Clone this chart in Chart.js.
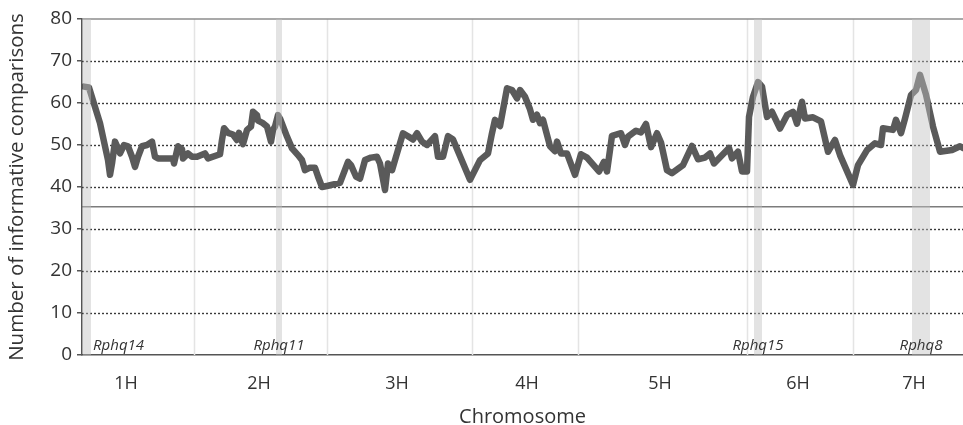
<!DOCTYPE html>
<html>
<head>
<meta charset="utf-8">
<script src="https://cdn.jsdelivr.net/npm/chart.js@4.4.0/dist/chart.umd.min.js"></script>
<style>
  html, body { margin: 0; padding: 0; background: #fff; }
  #wrap { width: 963px; height: 425px; }
</style>
</head>
<body>
<div id="wrap"><canvas id="myChart"></canvas></div>
<script>
// genome position (arbitrary map units along the concatenated chromosomes)
const positions = [
  2, 7, 18, 26, 28, 30, 33, 36, 38, 42, 46, 50, 53, 56, 60, 65, 70, 73, 76, 91,
  92, 96, 100, 101, 106, 110, 115, 123, 126, 138, 140, 142, 146, 151, 155, 157, 161, 165, 169, 171,
  175, 176, 181, 185, 189, 191, 193, 196, 198, 205, 210, 216, 220, 223, 228, 233, 236, 240, 246, 258,
  266, 269, 274, 278, 283, 289, 295, 298, 303, 306, 310, 315, 321, 326, 331, 335, 340, 345, 353, 356,
  361, 366, 371, 388, 398, 406, 410, 413, 418, 425, 430, 435, 438, 443, 448, 451, 455, 458, 461, 468,
  473, 475, 479, 485, 493, 499, 505, 517, 522, 525, 530, 539, 543, 546, 554, 559, 564, 569, 575, 579,
  585, 590, 601, 610, 616, 623, 628, 632, 647, 650, 656, 660, 665, 667, 671, 676, 680, 685, 690, 698,
  705, 711, 715, 720, 723, 731, 739, 746, 753, 758, 771, 776, 785, 793, 799, 801, 811, 814, 819, 823,
  829, 834, 838, 844, 851, 858, 870, 878, 881
];
const comparisons = [
  63.9, 63.7, 55.2, 46.4, 42.9, 45.6, 50.8, 49.2, 48, 50, 49.7, 47.2, 44.8, 47.2, 49.7, 50, 50.8, 47.2, 46.8, 46.8,
  45.6, 49.7, 49, 46.8, 48, 47.2, 47.2, 48, 46.8, 47.8, 51.2, 54, 52.9, 52.5, 51.2, 52.9, 50.2, 53.6, 54.4, 57.9,
  57.1, 55.8, 55.2, 54.4, 50.8, 53.6, 54.4, 57.1, 56.3, 52, 49.2, 47.6, 46.4, 44, 44.6, 44.6, 42.5, 40, 40.3, 41,
  46, 45.2, 42.5, 42, 46.4, 47, 47.2, 45.6, 39.3, 45.6, 44, 48, 52.8, 52.1, 51.3, 52.8, 50.8, 50, 52.1, 47.2,
  47.2, 52.1, 51.3, 41.7, 46.4, 48, 52.8, 56, 54.5, 63.5, 63.1, 61.1, 63.1, 61.5, 58.5, 56, 57.2, 55.2, 56, 49.7,
  48.5, 50.8, 48, 48, 42.9, 47.8, 47, 43.7, 46, 43.7, 52.2, 52.8, 50, 52, 53.4, 53, 55, 49.5, 52.8, 50.6,
  44, 43.3, 45.2, 49.8, 46.6, 47, 48, 45.6, 49.3, 46.8, 48.4, 43.7, 43.7, 56.7, 61.5, 65, 63.9, 56.7, 57.9, 53.9,
  57.1, 57.9, 55.1, 60.3, 56.3, 56.6, 55.6, 48.4, 51.2, 47.6, 40.5, 45.2, 48.8, 50.4, 50, 54, 53.6, 56, 52.8, 56.3,
  61.9, 63.1, 66.7, 62, 54.4, 48.4, 48.8, 49.7, 49.3
];

const chromNames = ['1H', '2H', '3H', '4H', '5H', '6H', '7H'];
const chromCentres = [44, 177, 315, 445, 578, 716, 832];
const chromBounds = [112, 245, 390, 496, 665, 771];

const qtlNames = ['Rphq14', 'Rphq11', 'Rphq15', 'Rphq8'];
const qtlStart = [1, 194, 672, 830];
const qtlEnd = [9, 200, 680, 848];

const threshold = 35.3;
const genomeEnd = 881;

const backdrop = {
  id: 'backdrop',
  beforeDatasetsDraw(chart) {
    const { ctx, chartArea: a, scales: { x, y } } = chart;
    ctx.save();
    // chromosome dividers
    ctx.strokeStyle = '#e4e4e4';
    ctx.lineWidth = 1.5;
    chromBounds.forEach(b => {
      const px = Math.round(x.getPixelForValue(b)) + 0.5;
      ctx.beginPath();
      ctx.moveTo(px, a.top);
      ctx.lineTo(px, a.bottom);
      ctx.stroke();
    });
    // dotted grid
    ctx.strokeStyle = '#3a3a3a';
    ctx.lineWidth = 1.4;
    ctx.setLineDash([2, 2]);
    y.ticks.forEach(t => {
      if (t.value <= 0 || t.value >= 80) return;
      const py = Math.round(y.getPixelForValue(t.value)) + 0.5;
      ctx.beginPath();
      ctx.moveTo(a.left, py);
      ctx.lineTo(a.right, py);
      ctx.stroke();
    });
    ctx.setLineDash([]);
    // top frame line
    ctx.strokeStyle = '#8c8c8c';
    ctx.lineWidth = 1.5;
    const top = y.getPixelForValue(80);
    ctx.beginPath();
    ctx.moveTo(a.left, top);
    ctx.lineTo(a.right, top);
    ctx.stroke();
    ctx.restore();
  },
  afterDatasetsDraw(chart) {
    const { ctx, chartArea: a, scales: { x, y } } = chart;
    ctx.save();
    ctx.fillStyle = 'rgba(194, 194, 194, 0.45)';
    qtlStart.forEach((s, i) => {
      const x0 = x.getPixelForValue(s);
      const x1 = x.getPixelForValue(qtlEnd[i]);
      ctx.fillRect(x0, a.top, x1 - x0, a.bottom - a.top);
    });
    ctx.fillStyle = '#333';
    ctx.font = 'italic 15px "Open Sans"';
    ctx.textBaseline = 'alphabetic';
    qtlNames.forEach((name, i) => {
      const w = ctx.measureText(name).width;
      const mid = (x.getPixelForValue(qtlStart[i]) + x.getPixelForValue(qtlEnd[i])) / 2;
      const left = Math.max(mid - w / 2, a.left + 11);
      ctx.fillText(name, left, y.getPixelForValue(0) - 5);
    });
    ctx.restore();
  }
};

const ctx = document.getElementById('myChart').getContext('2d');
const chart = new Chart(ctx, {
  type: 'line',
  data: {
    datasets: [{
      data: positions.map((p, i) => ({ x: p, y: comparisons[i] })),
      borderColor: '#5a5a5a',
      borderWidth: 6.5,
      borderJoinStyle: 'round',
      borderCapStyle: 'round',
      pointRadius: 0,
      tension: 0
    }, {
      data: [{ x: 0, y: threshold }, { x: genomeEnd, y: threshold }],
      borderColor: '#7c7c7c',
      borderWidth: 1.5,
      pointRadius: 0
    }]
  },
  options: {
    responsive: true,
    maintainAspectRatio: false,
    animation: false,
    layout: { padding: { top: 19, right: 0, bottom: 0, left: 0 } },
    plugins: { legend: { display: false }, tooltip: { enabled: false } },
    scales: {
      x: {
        type: 'linear',
        min: 0,
        max: genomeEnd,
        afterBuildTicks(scale) { scale.ticks = chromCentres.map(v => ({ value: v })); },
        afterFit(scale) { scale.height = 70; },
        ticks: {
          autoSkip: false,
          maxRotation: 0,
          color: '#333',
          font: { family: 'Open Sans', size: 18 },
          padding: 18,
          callback: (v, i) => chromNames[i]
        },
        grid: { display: false, drawTicks: false },
        border: { display: true, color: '#555', width: 1.5 },
        title: {
          display: true,
          text: 'Chromosome',
          color: '#333',
          font: { family: 'Open Sans', size: 20, lineHeight: 1 },
          padding: { top: 0, bottom: -2 }
        }
      },
      y: {
        min: 0,
        max: 80,
        afterFit(scale) { scale.width = 82; },
        ticks: {
          stepSize: 10,
          color: '#333',
          font: { family: 'Open Sans', size: 19 },
          padding: 5
        },
        grid: { drawOnChartArea: false, drawTicks: true, tickLength: 5, color: '#555', lineWidth: 1.5 },
        border: { display: true, color: '#555', width: 1.5 },
        title: {
          display: true,
          text: 'Number of informative comparisons',
          color: '#333',
          font: { family: 'Open Sans', size: 20.5 },
          padding: { top: 5, bottom: 0 }
        }
      }
    }
  },
  plugins: [backdrop]
});
</script>
</body>
</html>
